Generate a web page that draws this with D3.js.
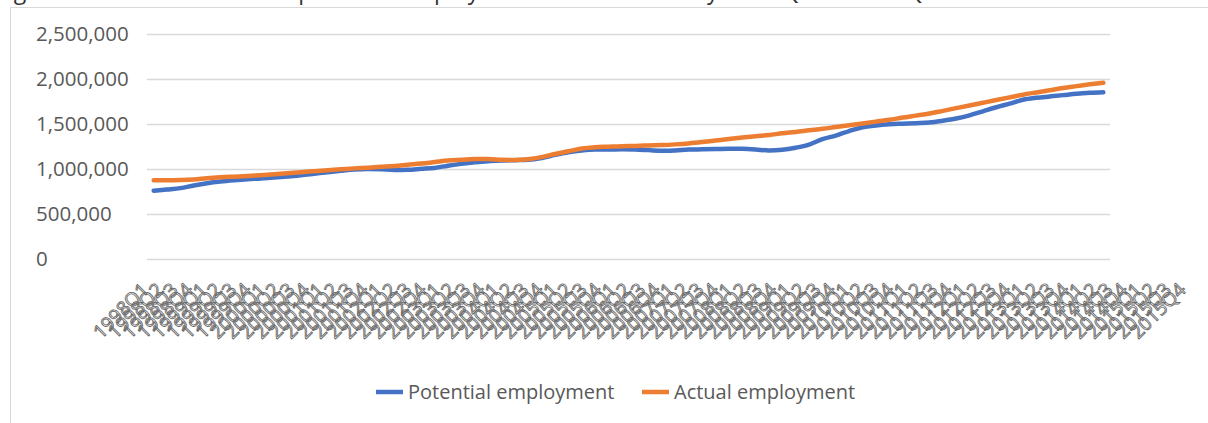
<!DOCTYPE html>
<html>
<head>
<meta charset="utf-8">
<script src="https://cdn.jsdelivr.net/npm/d3@7"></script>
<style>
html,body{margin:0;padding:0;background:#fff;}
svg{display:block;}
</style>
</head>
<body>
<svg id="chart" width="1208" height="423"></svg>
<script>
const years = d3.range(1998, 2016);
const quarters = ["Q1","Q2","Q3","Q4"];
const categories = years.flatMap(y => quarters.map(q => y + q));

const potentialEmployment = [
  757000, 770000, 785000, 815000, 840000, 858000, 872000, 884000, 893000, 903000,
  915000, 928000, 945000, 962000, 978000, 992000, 998000, 995000, 988000, 990000,
  1000000, 1010000, 1035000, 1055000, 1072000, 1085000, 1092000, 1096000, 1100000, 1120000,
  1155000, 1185000, 1205000, 1215000, 1215000, 1217000, 1215000, 1208000, 1200000, 1205000,
  1214000, 1217000, 1220000, 1224000, 1222000, 1215000, 1205000, 1212000, 1235000, 1270000,
  1330000, 1370000, 1420000, 1462000, 1482000, 1495000, 1502000, 1508000, 1515000, 1535000,
  1560000, 1595000, 1640000, 1685000, 1725000, 1768000, 1790000, 1805000, 1820000, 1835000,
  1845000, 1851000
];
const actualEmployment = [
  872000, 872000, 875000, 882000, 895000, 905000, 913000, 920000, 929000, 940000,
  952000, 962000, 974000, 985000, 995000, 1005000, 1013000, 1022000, 1031000, 1045000,
  1058000, 1075000, 1093000, 1100000, 1108000, 1108000, 1100000, 1098000, 1106000, 1130000,
  1165000, 1195000, 1225000, 1240000, 1246000, 1252000, 1255000, 1260000, 1264000, 1272000,
  1283000, 1298000, 1315000, 1332000, 1348000, 1363000, 1376000, 1395000, 1410000, 1428000,
  1445000, 1465000, 1485000, 1505000, 1525000, 1545000, 1570000, 1592000, 1615000, 1645000,
  1675000, 1705000, 1735000, 1765000, 1795000, 1825000, 1850000, 1875000, 1900000, 1920000,
  1940000, 1958000
];
const yTicks = [0, 500000, 1000000, 1500000, 2000000, 2500000];
const seriesNames = ["Potential employment", "Actual employment"];
const seriesColors = ["#4472C4", "#ED7D31"];
const captionText = "Figure 1: The actual and the potential employment for the economy from Q1 1998 to Q4 2015";

const svg = d3.select("#chart");
const font = "'Open Sans', sans-serif";
const textColor = "#595959";

// caption (cut off at top, as in the source)
svg.append("text").attr("x", -4).attr("y", -1)
  .attr("font-family", font).attr("font-size", 23)
  .attr("fill", "#333").text(captionText);

// chart frame
svg.append("rect").attr("x", 10.5).attr("y", 7.5).attr("width", 1210).attr("height", 420)
  .attr("fill", "#fff").attr("stroke", "#d9d9d9").attr("stroke-width", 1);

const plotLeft = 147, plotRight = 1110;
const x = d3.scalePoint().domain(categories).range([plotLeft, plotRight]).padding(0.5);
const y = d3.scaleLinear().domain([0, 2500000]).range([258.7, 34]);

// gridlines
svg.append("g").selectAll("line").data(yTicks).join("line")
  .attr("x1", plotLeft).attr("x2", plotRight)
  .attr("y1", d => Math.round(y(d)) + 0.5).attr("y2", d => Math.round(y(d)) + 0.5)
  .attr("stroke", "#d9d9d9").attr("stroke-width", 1.3);

// y labels (left-aligned)
const fmt = d3.format(",");
svg.append("g").selectAll("text").data(yTicks).join("text")
  .attr("x", 36).attr("y", d => y(d)).attr("dy", "0.35em")
  .attr("font-family", font).attr("font-size", 20.5).attr("fill", textColor)
  .text(d => fmt(d));

// x labels (rotated)
const xl = d3.scalePoint().domain(categories).range([150, 1187]);
svg.append("g").selectAll("text").data(categories).join("text")
  .attr("transform", d => `translate(${xl(d)},${291}) rotate(-45)`)
  .attr("text-anchor", "end")
  .attr("font-family", font).attr("font-size", 19).attr("fill", "none")
  .attr("stroke", "#6b6b6b").attr("stroke-width", 0.9)
  .text(d => d);

// lines
const line = d3.line().x((d, i) => x(categories[i])).y(d => y(d)).curve(d3.curveMonotoneX);
[potentialEmployment, actualEmployment].forEach((s, k) => {
  svg.append("path").datum(s).attr("d", line)
    .attr("fill", "none").attr("stroke", seriesColors[k]).attr("stroke-width", 4.5)
    .attr("stroke-linejoin", "round").attr("stroke-linecap", "round");
});

// legend
const legendX = [376, 642];
seriesNames.forEach((n, k) => {
  const g = svg.append("g");
  g.append("line").attr("x1", legendX[k]).attr("x2", legendX[k] + 27)
    .attr("y1", 392).attr("y2", 392).attr("stroke", seriesColors[k]).attr("stroke-width", 4.5);
  g.append("text").attr("x", legendX[k] + 32).attr("y", 392).attr("dy", "0.35em")
    .attr("font-family", font).attr("font-size", 20).attr("fill", textColor).text(n);
});
</script>
</body>
</html>
